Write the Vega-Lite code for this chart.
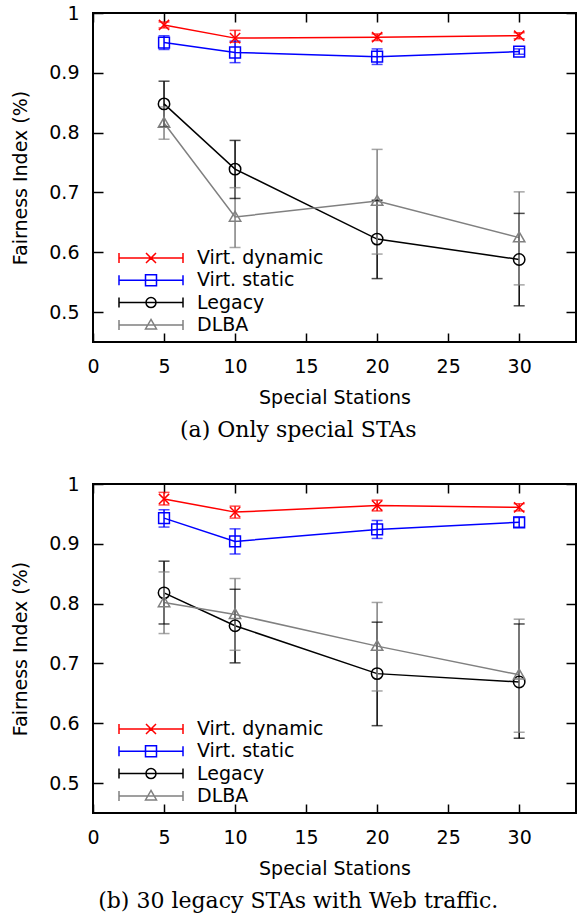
{
  "$schema": "https://vega.github.io/schema/vega-lite/v6.json",
  "padding": {"left": 10, "top": 3, "right": 2, "bottom": 2},
  "spacing": 32,
  "background": "white",
  "config": {
    "view": {"stroke": "#000000", "strokeWidth": 2},
    "axis": {"labelFont": "DejaVu Sans", "labelFontSize": 19, "labelColor": "#000", "titleFont": "DejaVu Sans", "titleFontSize": 19, "titleFontWeight": "normal", "titleColor": "#000", "grid": false, "domain": false, "tickColor": "#000", "tickWidth": 1.5, "labelFlush": false, "labelOverlap": false},
    "legend": {"orient": "none", "legendX": 47, "legendY": 234, "title": null, "labelFont": "DejaVu Sans", "labelFontSize": 19, "labelColor": "#000", "symbolSize": 400, "symbolStrokeWidth": 1.5, "labelOffset": 35, "rowPadding": 1.3, "padding": 0}
  },
  "datasets": {
    "a": [
      {"series": "Virt. dynamic", "x": 5, "y": 0.980, "lo": 0.975, "hi": 0.985},
      {"series": "Virt. dynamic", "x": 10, "y": 0.958, "lo": 0.951, "hi": 0.971},
      {"series": "Virt. dynamic", "x": 20, "y": 0.9595, "lo": 0.954, "hi": 0.965},
      {"series": "Virt. dynamic", "x": 30, "y": 0.962, "lo": 0.957, "hi": 0.967},
      {"series": "Virt. static", "x": 5, "y": 0.9505, "lo": 0.939, "hi": 0.962},
      {"series": "Virt. static", "x": 10, "y": 0.934, "lo": 0.917, "hi": 0.953},
      {"series": "Virt. static", "x": 20, "y": 0.927, "lo": 0.914, "hi": 0.940},
      {"series": "Virt. static", "x": 30, "y": 0.9355, "lo": 0.931, "hi": 0.940},
      {"series": "Legacy", "x": 5, "y": 0.848, "lo": 0.810, "hi": 0.886},
      {"series": "Legacy", "x": 10, "y": 0.739, "lo": 0.690, "hi": 0.787},
      {"series": "Legacy", "x": 20, "y": 0.622, "lo": 0.556, "hi": 0.687},
      {"series": "Legacy", "x": 30, "y": 0.588, "lo": 0.5105, "hi": 0.665},
      {"series": "DLBA", "x": 5, "y": 0.816, "lo": 0.789, "hi": 0.843},
      {"series": "DLBA", "x": 10, "y": 0.659, "lo": 0.608, "hi": 0.708},
      {"series": "DLBA", "x": 20, "y": 0.6855, "lo": 0.597, "hi": 0.772},
      {"series": "DLBA", "x": 30, "y": 0.6245, "lo": 0.5455, "hi": 0.701}
    ],
    "b": [
      {"series": "Virt. dynamic", "x": 5, "y": 0.975, "lo": 0.965, "hi": 0.986},
      {"series": "Virt. dynamic", "x": 10, "y": 0.953, "lo": 0.943, "hi": 0.963},
      {"series": "Virt. dynamic", "x": 20, "y": 0.964, "lo": 0.955, "hi": 0.973},
      {"series": "Virt. dynamic", "x": 30, "y": 0.961, "lo": 0.955, "hi": 0.967},
      {"series": "Virt. static", "x": 5, "y": 0.943, "lo": 0.928, "hi": 0.957},
      {"series": "Virt. static", "x": 10, "y": 0.904, "lo": 0.883, "hi": 0.925},
      {"series": "Virt. static", "x": 20, "y": 0.924, "lo": 0.909, "hi": 0.939},
      {"series": "Virt. static", "x": 30, "y": 0.936, "lo": 0.928, "hi": 0.944},
      {"series": "Legacy", "x": 5, "y": 0.818, "lo": 0.766, "hi": 0.871},
      {"series": "Legacy", "x": 10, "y": 0.763, "lo": 0.701, "hi": 0.824},
      {"series": "Legacy", "x": 20, "y": 0.683, "lo": 0.596, "hi": 0.769},
      {"series": "Legacy", "x": 30, "y": 0.669, "lo": 0.575, "hi": 0.766},
      {"series": "DLBA", "x": 5, "y": 0.802, "lo": 0.750, "hi": 0.853},
      {"series": "DLBA", "x": 10, "y": 0.782, "lo": 0.722, "hi": 0.842},
      {"series": "DLBA", "x": 20, "y": 0.729, "lo": 0.654, "hi": 0.802},
      {"series": "DLBA", "x": 30, "y": 0.681, "lo": 0.585, "hi": 0.774}
    ]
  },
  "vconcat": [
    {
      "width": 483, "height": 329,
      "data": {"name": "a"},
      "title": {"text": "(a) Only special STAs", "orient": "bottom", "font": "DejaVu Serif", "fontSize": 22, "fontWeight": "normal", "color": "#000", "anchor": "middle", "frame": "bounds", "offset": 13, "dx": 4},
      "resolve": {"scale": {"color": "independent", "shape": "independent"}, "axis": {"x": "independent", "y": "independent"}},
      "layer": [
        {
          "mark": {"type": "line", "strokeWidth": 1.5},
          "encoding": {
            "x": {"field": "x", "type": "quantitative", "scale": {"domain": [0, 34], "nice": false, "zero": false}, "axis": {"orient": "bottom", "values": [0, 5, 10, 15, 20, 25, 30], "title": "Special Stations", "tickSize": -9, "labelPadding": 24, "titlePadding": 12}},
            "y": {"field": "y", "type": "quantitative", "scale": {"domain": [0.45, 1], "nice": false, "zero": false}, "axis": {"orient": "left", "values": [0.5, 0.6, 0.7, 0.8, 0.9, 1], "format": "~g", "title": "Fairness Index (%)", "tickSize": -10, "labelPadding": 24, "titlePadding": 18}},
            "color": {"field": "series", "type": "nominal", "scale": {"domain": ["Virt. dynamic", "Virt. static", "Legacy", "DLBA"], "range": ["#ff0000", "#0000ff", "#000000", "#808080"]}, "legend": null}
          }
        },
        {
          "mark": {"type": "rule", "strokeWidth": 1.5},
          "encoding": {
            "x": {"field": "x", "type": "quantitative", "axis": {"orient": "top", "values": [0, 5, 10, 15, 20, 25, 30], "labels": false, "title": null, "tickSize": -9}},
            "y": {"field": "lo", "type": "quantitative", "axis": {"orient": "right", "values": [0.5, 0.6, 0.7, 0.8, 0.9, 1], "labels": false, "title": null, "tickSize": -10}},
            "y2": {"field": "hi"},
            "color": {"field": "series", "type": "nominal", "scale": {"domain": ["Virt. dynamic", "Virt. static", "Legacy", "DLBA"], "range": ["#ff0000", "#0000ff", "#000000", "#808080"]}, "legend": null}
          }
        },
        {
          "mark": {"type": "tick", "orient": "horizontal", "size": 11, "thickness": 1.5},
          "encoding": {
            "x": {"field": "x", "type": "quantitative", "axis": null},
            "y": {"field": "lo", "type": "quantitative", "axis": null},
            "color": {"field": "series", "type": "nominal", "scale": {"domain": ["Virt. dynamic", "Virt. static", "Legacy", "DLBA"], "range": ["#ff0000", "#0000ff", "#000000", "#808080"]}, "legend": null}
          }
        },
        {
          "mark": {"type": "tick", "orient": "horizontal", "size": 11, "thickness": 1.5},
          "encoding": {
            "x": {"field": "x", "type": "quantitative", "axis": null},
            "y": {"field": "hi", "type": "quantitative", "axis": null},
            "color": {"field": "series", "type": "nominal", "scale": {"domain": ["Virt. dynamic", "Virt. static", "Legacy", "DLBA"], "range": ["#ff0000", "#0000ff", "#000000", "#808080"]}, "legend": null}
          }
        },
        {
          "mark": {"type": "point", "filled": false, "size": 144, "strokeWidth": 1.5, "opacity": 1},
          "encoding": {
            "x": {"field": "x", "type": "quantitative", "axis": null},
            "y": {"field": "y", "type": "quantitative", "axis": null},
            "color": {"field": "series", "type": "nominal", "scale": {"domain": ["Virt. dynamic", "Virt. static", "Legacy", "DLBA"], "range": ["#ff0000", "#0000ff", "#000000", "#808080"]}, "legend": null},
            "shape": {"field": "series", "type": "nominal", "scale": {"domain": ["Virt. dynamic", "Virt. static", "Legacy", "DLBA"], "range": ["M-0.85,-0.85L0.85,0.85M-0.85,0.85L0.85,-0.85", "M-0.9,-0.9H0.9V0.9H-0.9Z", "M0.95,0A0.95,0.95,0,1,1,-0.95,0A0.95,0.95,0,1,1,0.95,0", "M0,-0.95L0.95,0.7H-0.95Z"]}, "legend": null}
          }
        },
        {
          "data": {"values": []},
          "mark": {"type": "point", "filled": false, "strokeWidth": 1.5, "opacity": 1},
          "encoding": {
            "color": {"field": "series", "type": "nominal", "scale": {"domain": ["Virt. dynamic", "Virt. static", "Legacy", "DLBA"], "range": ["#ff0000", "#0000ff", "#000000", "#808080"]}, "legend": {"title": null}},
            "shape": {"field": "series", "type": "nominal", "scale": {"domain": ["Virt. dynamic", "Virt. static", "Legacy", "DLBA"], "range": [
              "M-3.2,0H3.2M-3.2,-0.5V0.5M3.2,-0.5V0.5M-0.5,-0.5L0.5,0.5M-0.5,0.5L0.5,-0.5",
              "M-3.2,0H3.2M-3.2,-0.5V0.5M3.2,-0.5V0.5M-0.55,-0.55H0.55V0.55H-0.55Z",
              "M-3.2,0H3.2M-3.2,-0.5V0.5M3.2,-0.5V0.5M0.5,0A0.5,0.5,0,1,1,-0.5,0A0.5,0.5,0,1,1,0.5,0",
              "M-3.2,0H3.2M-3.2,-0.5V0.5M3.2,-0.5V0.5M0,-0.55L0.55,0.4H-0.55Z"
            ]}, "legend": {"title": null}}
          }
        }
      ]
    },
    {
      "width": 483, "height": 329,
      "data": {"name": "b"},
      "title": {"text": "(b) 30 legacy STAs with Web traffic.", "orient": "bottom", "font": "DejaVu Serif", "fontSize": 22, "fontWeight": "normal", "color": "#000", "anchor": "middle", "frame": "bounds", "offset": 13, "dx": 4},
      "resolve": {"scale": {"color": "independent", "shape": "independent"}, "axis": {"x": "independent", "y": "independent"}},
      "layer": [
        {
          "mark": {"type": "line", "strokeWidth": 1.5},
          "encoding": {
            "x": {"field": "x", "type": "quantitative", "scale": {"domain": [0, 34], "nice": false, "zero": false}, "axis": {"orient": "bottom", "values": [0, 5, 10, 15, 20, 25, 30], "title": "Special Stations", "tickSize": -9, "labelPadding": 24, "titlePadding": 12}},
            "y": {"field": "y", "type": "quantitative", "scale": {"domain": [0.45, 1], "nice": false, "zero": false}, "axis": {"orient": "left", "values": [0.5, 0.6, 0.7, 0.8, 0.9, 1], "format": "~g", "title": "Fairness Index (%)", "tickSize": -10, "labelPadding": 24, "titlePadding": 18}},
            "color": {"field": "series", "type": "nominal", "scale": {"domain": ["Virt. dynamic", "Virt. static", "Legacy", "DLBA"], "range": ["#ff0000", "#0000ff", "#000000", "#808080"]}, "legend": null}
          }
        },
        {
          "mark": {"type": "rule", "strokeWidth": 1.5},
          "encoding": {
            "x": {"field": "x", "type": "quantitative", "axis": {"orient": "top", "values": [0, 5, 10, 15, 20, 25, 30], "labels": false, "title": null, "tickSize": -9}},
            "y": {"field": "lo", "type": "quantitative", "axis": {"orient": "right", "values": [0.5, 0.6, 0.7, 0.8, 0.9, 1], "labels": false, "title": null, "tickSize": -10}},
            "y2": {"field": "hi"},
            "color": {"field": "series", "type": "nominal", "scale": {"domain": ["Virt. dynamic", "Virt. static", "Legacy", "DLBA"], "range": ["#ff0000", "#0000ff", "#000000", "#808080"]}, "legend": null}
          }
        },
        {
          "mark": {"type": "tick", "orient": "horizontal", "size": 11, "thickness": 1.5},
          "encoding": {
            "x": {"field": "x", "type": "quantitative", "axis": null},
            "y": {"field": "lo", "type": "quantitative", "axis": null},
            "color": {"field": "series", "type": "nominal", "scale": {"domain": ["Virt. dynamic", "Virt. static", "Legacy", "DLBA"], "range": ["#ff0000", "#0000ff", "#000000", "#808080"]}, "legend": null}
          }
        },
        {
          "mark": {"type": "tick", "orient": "horizontal", "size": 11, "thickness": 1.5},
          "encoding": {
            "x": {"field": "x", "type": "quantitative", "axis": null},
            "y": {"field": "hi", "type": "quantitative", "axis": null},
            "color": {"field": "series", "type": "nominal", "scale": {"domain": ["Virt. dynamic", "Virt. static", "Legacy", "DLBA"], "range": ["#ff0000", "#0000ff", "#000000", "#808080"]}, "legend": null}
          }
        },
        {
          "mark": {"type": "point", "filled": false, "size": 144, "strokeWidth": 1.5, "opacity": 1},
          "encoding": {
            "x": {"field": "x", "type": "quantitative", "axis": null},
            "y": {"field": "y", "type": "quantitative", "axis": null},
            "color": {"field": "series", "type": "nominal", "scale": {"domain": ["Virt. dynamic", "Virt. static", "Legacy", "DLBA"], "range": ["#ff0000", "#0000ff", "#000000", "#808080"]}, "legend": null},
            "shape": {"field": "series", "type": "nominal", "scale": {"domain": ["Virt. dynamic", "Virt. static", "Legacy", "DLBA"], "range": ["M-0.85,-0.85L0.85,0.85M-0.85,0.85L0.85,-0.85", "M-0.9,-0.9H0.9V0.9H-0.9Z", "M0.95,0A0.95,0.95,0,1,1,-0.95,0A0.95,0.95,0,1,1,0.95,0", "M0,-0.95L0.95,0.7H-0.95Z"]}, "legend": null}
          }
        },
        {
          "data": {"values": []},
          "mark": {"type": "point", "filled": false, "strokeWidth": 1.5, "opacity": 1},
          "encoding": {
            "color": {"field": "series", "type": "nominal", "scale": {"domain": ["Virt. dynamic", "Virt. static", "Legacy", "DLBA"], "range": ["#ff0000", "#0000ff", "#000000", "#808080"]}, "legend": {"title": null}},
            "shape": {"field": "series", "type": "nominal", "scale": {"domain": ["Virt. dynamic", "Virt. static", "Legacy", "DLBA"], "range": [
              "M-3.2,0H3.2M-3.2,-0.5V0.5M3.2,-0.5V0.5M-0.5,-0.5L0.5,0.5M-0.5,0.5L0.5,-0.5",
              "M-3.2,0H3.2M-3.2,-0.5V0.5M3.2,-0.5V0.5M-0.55,-0.55H0.55V0.55H-0.55Z",
              "M-3.2,0H3.2M-3.2,-0.5V0.5M3.2,-0.5V0.5M0.5,0A0.5,0.5,0,1,1,-0.5,0A0.5,0.5,0,1,1,0.5,0",
              "M-3.2,0H3.2M-3.2,-0.5V0.5M3.2,-0.5V0.5M0,-0.55L0.55,0.4H-0.55Z"
            ]}, "legend": {"title": null}}
          }
        }
      ]
    }
  ]
}
